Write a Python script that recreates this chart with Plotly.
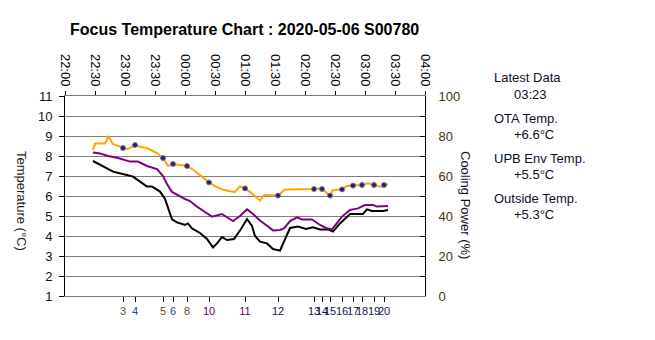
import plotly.graph_objects as go

# ---- series (clock time, °C) ----
ota_time = ["22:28", "22:30", "22:40", "22:43", "22:48", "22:53", "22:58", "23:03", "23:10",
            "23:16", "23:22", "23:28", "23:32", "23:38", "23:43", "23:48", "23:55", "00:02",
            "00:10", "00:15", "00:24", "00:30", "00:37", "00:44", "00:50", "00:55", "01:00",
            "01:07", "01:11", "01:15", "01:19", "01:27", "01:33", "01:40", "01:55", "02:09",
            "02:13", "02:17", "02:25", "02:28", "02:37", "02:42", "02:48", "02:57", "03:03",
            "03:09", "03:15", "03:19", "03:23"]
ota_temp = [8.3, 8.62, 8.62, 9.0, 8.6, 8.5, 8.4, 8.35, 8.55,
            8.45, 8.4, 8.25, 8.15, 7.9, 7.5, 7.6, 7.55, 7.5,
            7.25, 7.05, 6.68, 6.5, 6.33, 6.25, 6.2, 6.48, 6.38,
            6.13, 5.95, 5.77, 6.05, 6.05, 6.02, 6.33, 6.33, 6.35,
            6.38, 6.35, 6.02, 6.3, 6.33, 6.5, 6.52, 6.55, 6.63,
            6.55, 6.47, 6.55, 6.6]

upb_time = ["22:28", "22:35", "22:43", "22:53", "23:05", "23:13", "23:22", "23:32", "23:38",
            "23:42", "23:47", "23:52", "00:00", "00:05", "00:12", "00:20", "00:27", "00:37",
            "00:42", "00:48", "00:55", "01:02", "01:08", "01:15", "01:21", "01:28", "01:35",
            "01:39", "01:45", "01:52", "01:57", "02:07", "02:15", "02:21", "02:27", "02:37",
            "02:45", "02:53", "03:00", "03:08", "03:12", "03:21", "03:23"]
upb_temp = [8.18, 8.13, 8.0, 7.9, 7.72, 7.72, 7.5, 7.35, 7.0,
            6.6, 6.2, 6.05, 5.85, 5.75, 5.47, 5.2, 4.97, 5.1,
            4.95, 4.75, 5.0, 5.33, 5.1, 4.77, 4.55, 4.28, 4.3,
            4.38, 4.75, 4.93, 4.83, 4.83, 4.55, 4.4, 4.33, 4.97,
            5.3, 5.38, 5.55, 5.55, 5.47, 5.47, 5.5]

out_time = ["22:28", "22:38", "22:48", "23:02", "23:08", "23:15", "23:22", "23:27", "23:35",
            "23:40", "23:43", "23:47", "23:52", "00:00", "00:03", "00:07", "00:15", "00:22",
            "00:28", "00:32", "00:37", "00:42", "00:49", "00:56", "01:02", "01:07", "01:10",
            "01:15", "01:22", "01:28", "01:35", "01:40", "01:45", "01:53", "02:01", "02:08",
            "02:15", "02:23", "02:28", "02:35", "02:45", "02:58", "03:02", "03:07", "03:18",
            "03:23"]
out_temp = [7.75, 7.47, 7.22, 7.05, 6.97, 6.72, 6.47, 6.47, 6.22,
            5.85, 5.38, 4.83, 4.68, 4.55, 4.63, 4.38, 4.15, 3.85,
            3.43, 3.63, 3.95, 3.8, 3.85, 4.35, 4.85, 4.5, 4.0,
            3.72, 3.63, 3.35, 3.27, 3.85, 4.4, 4.47, 4.35, 4.43,
            4.33, 4.33, 4.22, 4.63, 5.1, 5.1, 5.33, 5.25, 5.25,
            5.3]

# ---- focus runs ----
focus_time = ["22:58", "23:10", "23:38", "23:48", "00:02", "00:24", "01:00", "01:33",
              "02:09", "02:17", "02:25", "02:37", "02:48", "02:57", "03:09", "03:19"]
focus_label = ["3", "4", "5", "6", "8", "10", "11", "12",
               "13", "14", "15", "16", "17", "18", "19", "20"]
focus_color = ["#6a4a18", "#1f4a90", "#6a4a18", "#1f4a90", "#6a4a18", "#600060", "#600060", "#101848",
               "#101848", "#101848", "#101848", "#101848", "#101848", "#101848", "#101848", "#101848"]

# ---- axes ----
top_ticks = ["22:00", "22:30", "23:00", "23:30", "00:00", "00:30", "01:00",
             "01:30", "02:00", "02:30", "03:00", "03:30", "04:00"]
temp_ticks = [1, 2, 3, 4, 5, 6, 7, 8, 9, 10, 11]
power_ticks = [0, 20, 40, 60, 80, 100]


def stamp(hhmm):
    day = "2020-05-06" if int(hhmm[:2]) >= 12 else "2020-05-07"
    return f"{day} {hhmm}"


def stamps(seq):
    return [stamp(t) for t in seq]


FONT = "Liberation Sans, Arial, sans-serif"
x_range = [stamp(top_ticks[0]), stamp(top_ticks[-1])]

# plot-area geometry in pixels, used to place free text
L, R, T, B = 65, 425, 96, 296
W, H = 655, 340


def px(x):
    return (x - L) / (R - L)


def py(y):
    return (B - y) / (B - T)


fig = go.Figure()

fig.add_trace(go.Scatter(x=stamps(out_time), y=out_temp, mode="lines",
                         line=dict(color="#000000", width=2), name="Outside Temp."))
fig.add_trace(go.Scatter(x=stamps(upb_time), y=upb_temp, mode="lines",
                         line=dict(color="#800080", width=2), name="UPB Env Temp."))
fig.add_trace(go.Scatter(x=stamps(ota_time), y=ota_temp, mode="lines",
                         line=dict(color="#FFA500", width=2), name="OTA Temp."))

# focus markers sit on the OTA curve
ota_lookup = dict(zip(ota_time, ota_temp))
fig.add_trace(go.Scatter(x=stamps(focus_time), y=[ota_lookup[t] for t in focus_time],
                         mode="markers",
                         marker=dict(size=5, color="#1c1c8c",
                                     line=dict(color="#8a7a70", width=1)),
                         name="Focus"))

# carriers for the top time axis and the cooling-power axis
fig.add_trace(go.Scatter(x=stamps(ota_time), y=ota_temp, xaxis="x2", mode="lines",
                         line=dict(width=0), opacity=0, hoverinfo="skip"))
fig.add_trace(go.Scatter(x=[], y=[], yaxis="y2", mode="lines", hoverinfo="skip"))

fig.update_layout(
    width=W, height=H,
    margin=dict(l=L, r=W - R, t=T, b=H - B, pad=0),
    paper_bgcolor="white", plot_bgcolor="white",
    showlegend=False,
    font=dict(family=FONT, size=13, color="#000000"),
    xaxis=dict(
        type="date", range=x_range,
        tickmode="array", tickvals=stamps(focus_time),
        ticktext=[f"<span style='color:{c}'>{s}</span>" for s, c in zip(focus_label, focus_color)],
        tickangle=0,
        ticks="outside", ticklen=5, tickcolor="#000000", tickwidth=1,
        tickfont=dict(size=11),
        showgrid=False, zeroline=False,
        showline=True, linecolor="#808080", linewidth=1,
    ),
    xaxis2=dict(
        type="date", range=x_range, overlaying="x", side="top",
        tickmode="array", tickvals=stamps(top_ticks), ticktext=top_ticks,
        tickangle=90, tickfont=dict(size=13, color="#000000"),
        ticks="outside", ticklen=4, tickcolor="#000000",
        showgrid=False, zeroline=False,
        showline=True, linecolor="#808080", linewidth=1,
    ),
    yaxis=dict(
        range=[temp_ticks[0], temp_ticks[-1]],
        tickmode="array", tickvals=temp_ticks,
        ticks="outside", ticklen=5, tickcolor="#000000",
        ticklabelstandoff=4,
        tickfont=dict(size=13, color="#101020"),
        showgrid=True, gridcolor="#808080", gridwidth=1,
        zeroline=False,
        showline=True, linecolor="#000000", linewidth=1,
    ),
    yaxis2=dict(
        range=[power_ticks[0], power_ticks[-1]], overlaying="y", side="right",
        tickmode="array", tickvals=power_ticks,
        ticks="inside", ticklen=5, tickcolor="#000000",
        ticklabelstandoff=10,
        minor=dict(dtick=10, ticks="inside", ticklen=5, tickcolor="#000000", showgrid=False),
        tickfont=dict(size=13, color="#4a3208"),
        showgrid=False, zeroline=False,
        showline=True, linecolor="#000000", linewidth=1,
    ),
)

annotations = [
    dict(text="<b>Focus Temperature Chart : 2020-05-06 S00780</b>",
         x=px(244), y=py(30), xanchor="center", yanchor="middle",
         font=dict(size=16, color="#000000")),
    dict(text="Temperature (°C)", x=px(22), y=py(201), textangle=90,
         xanchor="center", yanchor="middle", font=dict(size=13, color="#2a1a10")),
    dict(text="Cooling Power (%)", x=px(466), y=py(205), textangle=90,
         xanchor="center", yanchor="middle", font=dict(size=13, color="#101020")),
]

# latest readings panel
panel = [
    ("Latest Data", ota_time[-1]),
    ("OTA Temp.", f"{ota_temp[-1]:+.1f}°C"),
    ("UPB Env Temp.", f"{upb_temp[-1]:+.1f}°C"),
    ("Outside Temp.", f"{out_temp[-1]:+.1f}°C"),
]
for i, (head, val) in enumerate(panel):
    y0 = 78 + 40 * i
    annotations.append(dict(text=head, x=px(492), y=py(y0), xanchor="left", yanchor="middle",
                            font=dict(size=13, color="#101028")))
    annotations.append(dict(text=val, x=px(512), y=py(y0 + 16), xanchor="left", yanchor="middle",
                            font=dict(size=13, color="#101028")))

for a in annotations:
    a.update(xref="paper", yref="paper", showarrow=False)
fig.update_layout(annotations=annotations)

fig.write_html("out.html")
